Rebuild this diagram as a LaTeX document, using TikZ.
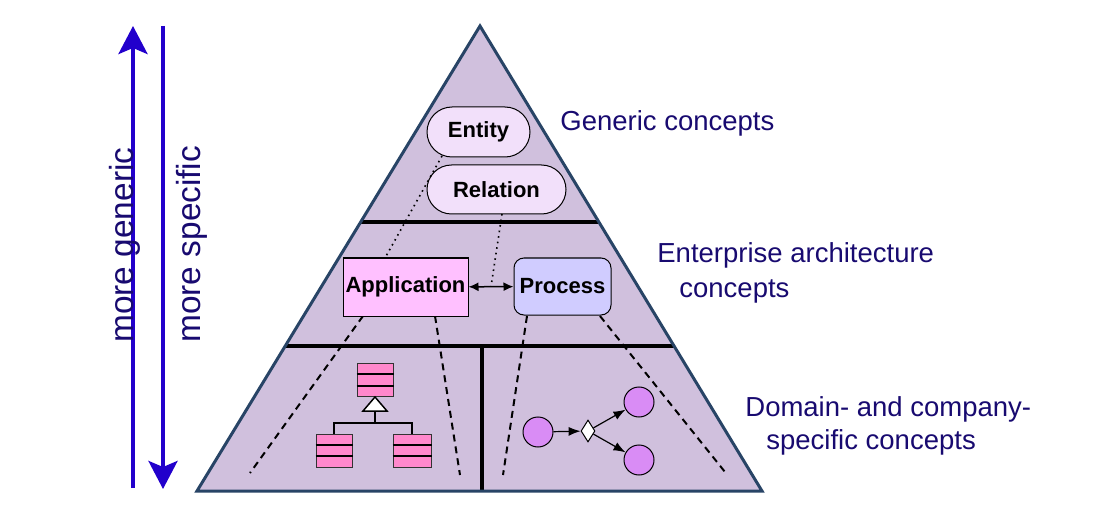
\documentclass[tikz,border=0pt]{standalone}
\usepackage{fontspec}
\setmainfont{Liberation Sans}
\usetikzlibrary{calc,arrows.meta,shapes.misc,shapes.geometric}

\definecolor{pyrfill}{RGB}{208,192,221}
\definecolor{pyredge}{RGB}{40,68,102}
\definecolor{labelblue}{RGB}{24,10,112}
\definecolor{arrowblue}{RGB}{34,0,204}
\definecolor{entfill}{RGB}{242,224,250}
\definecolor{appfill}{RGB}{255,192,255}
\definecolor{procfill}{RGB}{208,204,255}
\definecolor{clsfill}{RGB}{255,136,204}
\definecolor{actfill}{RGB}{217,140,245}

\begin{document}
\begin{tikzpicture}[x=0.5pt,y=-0.5pt,
  layerlabel/.style={text=labelblue,font=\fontsize{13.75}{16}\selectfont,anchor=base west,inner sep=0pt},
  concept/.style={draw,line width=0.5pt,inner sep=0pt,font=\fontsize{11}{13}\selectfont\bfseries},
  classbox/.style={draw=black!80,line width=0.5pt,fill=clsfill,minimum width=18pt,minimum height=16.5pt,inner sep=0pt},
  actnode/.style={circle,draw,line width=0.5pt,fill=actfill,minimum size=15pt,inner sep=0pt},
  flow/.style={line width=0.6pt,-{Latex[length=6pt,width=4.5pt]}},
  axisarrow/.style={arrowblue,line width=2pt,-{Stealth[length=14pt,width=14.5pt,inset=3pt]}},
  axislabel/.style={text=labelblue,font=\fontsize{16.7}{20}\selectfont,rotate=90,anchor=base west,inner sep=0pt}
]
  \useasboundingbox (0,0) rectangle (1115,508);

  \coordinate (apex) at (480,26);
  \coordinate (base_l) at (197,491);
  \coordinate (base_r) at (762,491);

  \coordinate (gen_foot) at (133,488);
  \coordinate (gen_tip) at (133,26);
  \coordinate (spec_foot) at (163,26);
  \coordinate (spec_tip) at (163,489);

  % the pyramid and its three layers
  \fill[pyrfill] (apex) -- (base_l) -- (base_r) -- cycle;
  \begin{scope}
    \clip (apex) -- (base_l) -- (base_r) -- cycle;
    \draw[line width=2pt] (250,222) -- (700,222);
    \draw[line width=2pt] (250,346) -- (700,346);
    \draw[line width=2pt] (482,346) -- (482,491);
  \end{scope}
  \draw[pyredge,line width=1.5pt] (apex) -- (base_l) -- (base_r) -- cycle;

  \draw[axisarrow] (gen_foot) -- (gen_tip);
  \draw[axisarrow] (spec_foot) -- (spec_tip);

  \node[axislabel] (gen_lbl) at (133,343) {more generic};
  \node[axislabel] (spec_lbl) at (200,343) {more specific};

  \node[layerlabel] (generic_lbl) at (560,131) {Generic concepts};
  \node[layerlabel] (ea_lbl) at (657,263) {Enterprise architecture};
  \node[layerlabel] (ea_lbl2) at (679,297) {concepts};
  \node[layerlabel] (dom_lbl) at (745,416) {Domain- and company-};
  \node[layerlabel] (dom_lbl2) at (766,449) {specific concepts};

  % dotted and dashed guide lines
  \coordinate (ent_tail) at (442,156);
  \coordinate (app_head) at (385,258);
  \coordinate (rel_tail) at (502,214);
  \coordinate (app_fl) at (363,316);
  \coordinate (app_fr) at (435,316);
  \coordinate (proc_fl) at (527,316);
  \coordinate (proc_fr) at (600,316);
  \coordinate (dash_a) at (250,473);
  \coordinate (dash_b) at (460,475);
  \coordinate (dash_c) at (503,475);
  \coordinate (dash_d) at (725,472);

  \draw[line width=1pt,dash pattern=on 3.5pt off 2.5pt] (app_fl) -- (dash_a);
  \draw[line width=1pt,dash pattern=on 3.5pt off 2.5pt] (app_fr) -- (dash_b);
  \draw[line width=1pt,dash pattern=on 3.5pt off 2.5pt] (proc_fl) -- (dash_c);
  \draw[line width=1pt,dash pattern=on 3.5pt off 2.5pt] (proc_fr) -- (dash_d);

  \node[concept,rounded rectangle,fill=entfill,minimum width=51.5pt,minimum height=25pt] (entity) at (478.5,132) {Entity};
  \node[concept,rounded rectangle,fill=entfill,minimum width=69.5pt,minimum height=24.5pt] (relation) at (496.5,189.5) {Relation};
  \node[concept,rectangle,fill=appfill,minimum width=62.5pt,minimum height=29pt] (application) at (405.5,287) {Application};
  \node[concept,rounded corners=5pt,fill=procfill,minimum width=48.5pt,minimum height=28.5pt] (process) at (562.5,286.5) {Process};

  \draw[line width=0.75pt,{Latex[length=5pt,width=4.5pt]}-{Latex[length=5pt,width=4.5pt]}] (application) -- (process);

  \coordinate (link_mid) at ($(application.east)!0.5!(process.west)$);
  \draw[line width=0.8pt,dotted] (ent_tail) -- (app_head);
  \draw[line width=0.8pt,dotted] (rel_tail) -- (link_mid);

  % class diagram
  \node[classbox] (top_cls) at (375,380) {};
  \node[classbox] (left_cls) at (334,450.5) {};
  \node[classbox,minimum width=19pt] (right_cls) at (412,450.5) {};
  \foreach \c in {top_cls,left_cls,right_cls} {
    \draw[line width=1pt] ($(\c.north west)!1/3!(\c.south west)$) -- ($(\c.north east)!1/3!(\c.south east)$);
    \draw[line width=1pt] ($(\c.north west)!2/3!(\c.south west)$) -- ($(\c.north east)!2/3!(\c.south east)$);
  }
  \coordinate (gen_base) at (375,411);
  \coordinate (fork) at (375,423);
  \draw[line width=1pt] (gen_base) -- (fork);
  \draw[line width=1pt] (left_cls.north) |- (fork) -| (right_cls.north);
  \filldraw[fill=white,line width=0.75pt] (top_cls.south) -- ++(-12,14) -- ++(24,0) -- cycle;

  % process flow
  \node[actnode] (act_a) at (538,432) {};
  \node[diamond,draw,fill=white,line width=0.5pt,minimum width=7pt,minimum height=11pt,inner sep=0pt] (gate) at (588,431) {};
  \node[actnode] (act_b) at (639,402) {};
  \node[actnode] (act_c) at (639,460) {};
  \draw[flow] (act_a) -- (gate);
  \draw[flow] (gate) -- (act_b);
  \draw[flow] (gate) -- (act_c);
\end{tikzpicture}
\end{document}
